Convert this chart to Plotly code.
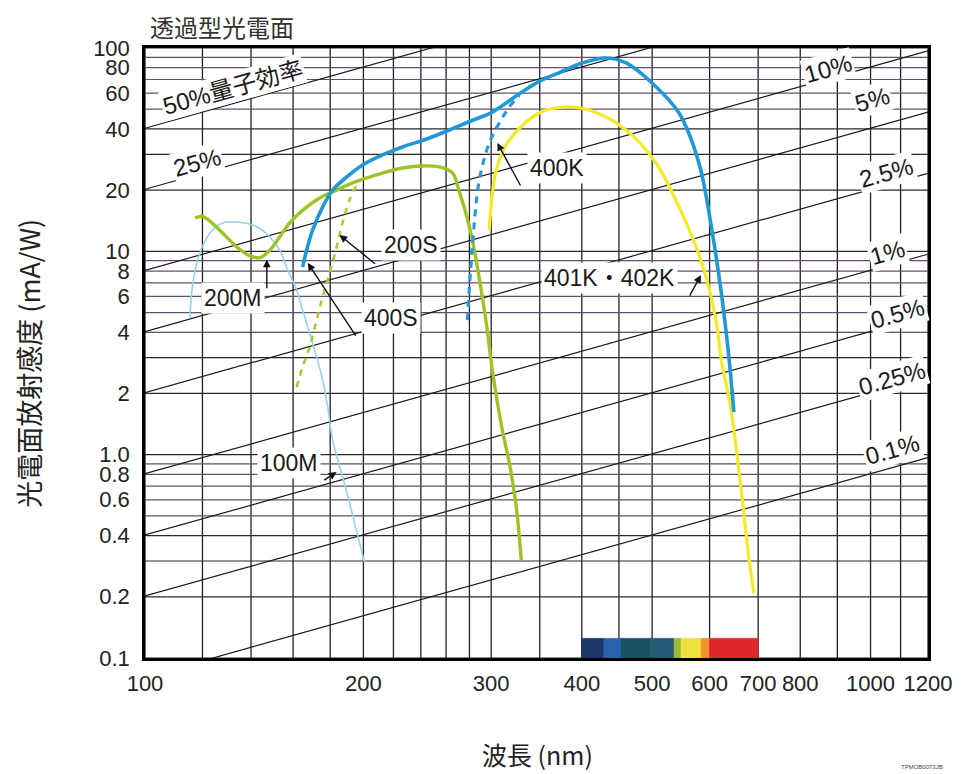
import numpy as np
import plotly.graph_objects as go

# ---------------- data ----------------
x_ticks = [100, 200, 300, 400, 500, 600, 700, 800, 1000, 1200]
y_ticks = [0.1, 0.2, 0.4, 0.6, 0.8, 1, 2, 4, 6, 8, 10, 20, 40, 60, 80, 100]
y_ticktext = ["0.1", "0.2", "0.4", "0.6", "0.8", "1.0", "2", "4", "6", "8", "10", "20", "40", "60", "80", "100"]

grid_nm = [100, 120, 140, 160, 180, 200, 220, 240, 260, 280, 300, 350, 400, 450, 500,
           600, 700, 800, 900, 1000, 1100, 1200]
grid_dark = [0.1, 0.2, 0.3, 0.4, 1, 2, 3, 4, 10, 20, 30, 40, 100]
grid_light = [0.5, 0.6, 0.7, 0.8, 0.9, 5, 6, 7, 8, 9, 50, 60, 70, 80, 90]

# quantum-efficiency reference lines (value at 100 nm and at 1200 nm, mA/W)
qe_labels = ["50%量子効率", "25%", "10%", "5%", "2.5%", "1%", "0.5%", "0.25%", "0.1%"]
qe_at_100 = [40.3, 20.2, 8.06, 4.03, 2.02, 0.806, 0.403, 0.202, 0.0806]
qe_at_1200 = [484, 242, 96.8, 48.4, 24.2, 9.68, 4.84, 2.42, 0.968]
qe_label_nm = [132.1, 117.9, 875, 1006, 1052, 1055, 1089, 1069, 1072]
qe_label_val = [63.6, 27.5, 79.7, 55.5, 24.3, 9.92, 4.97, 2.38, 1.06]

# spectral response curves
m100_nm = [115.3, 116.4, 119.0, 122.9, 128.0, 135.1, 142.6, 148.5, 153.4, 157.3, 161.8, 164.9,
           168.6, 172.4, 175.7, 178.6, 181.4, 186.6, 191.4, 197.6, 200.8]
m100_val = [4.70, 6.98, 9.8, 12.3, 13.8, 13.9, 13.2, 11.8, 10.1, 8.09, 6.45, 5.14,
            3.96, 3.02, 2.33, 1.71, 1.18, 0.81, 0.578, 0.367, 0.293]

m200_nm = [117.2, 120.2, 126.8, 133.8, 139.5, 143.9, 148.5, 153.4, 158.3, 164.9, 174.1, 183.7,
           193.2, 204.0, 215.3, 226.4, 241.2, 254.6, 265.3, 271.3, 276.0, 282.6, 291.7, 296.3,
           301.1, 310.8, 317.8, 324.9, 330.1]
m200_val = [14.6, 14.8, 12.7, 10.5, 9.5, 9.3, 10.1, 11.8, 13.8, 15.9, 18.3, 20.0,
            21.7, 23.2, 24.6, 25.7, 26.3, 26.0, 24.3, 19.5, 16.0, 11.4, 5.96, 4.1,
            2.6, 1.32, 0.91, 0.552, 0.303]

s200_nm = [161.8, 164.9, 168.6, 172.4, 175.7, 179.7, 183.7, 187.2, 191.4, 195.7]
s200_val = [2.15, 2.70, 3.38, 4.59, 5.96, 7.82, 10.5, 13.8, 17.9, 21.2]

s400_nm = [164.9, 167.0, 170.2, 175.7, 181.4, 189.6, 199.5, 212.5, 226.4, 245.0, 262.6, 280.0,
           301.1, 328.0, 349.4, 372, 400.5, 432.0, 460.3, 499.7, 544.5, 580.0, 604.4, 623.8,
           637.9, 648.1]
s400_val = [8.37, 10.1, 12.7, 16.5, 20.0, 23.2, 26.6, 29.8, 32.6, 35.8, 39.5, 43.5,
            48.4, 59.5, 68.5, 75.5, 84.4, 89.3, 84.4, 67.3, 47.9, 27.2, 12.7, 5.96,
            3.02, 1.62]

k400_nm = [278.2, 282.6, 288.9, 298.2, 307.8, 317.8, 328.0]
k400_val = [4.59, 10.5, 22.4, 34.1, 42.8, 51.3, 58.7]

k401_nm = [298.2, 304.9, 317.8, 349.4, 380.6, 409.5, 460.3, 506.1, 549.5, 585.5, 612.1, 623.8,
           637.9, 648.1, 658.4, 668.9, 679.6, 690.5]
k401_val = [12.7, 25.1, 35.3, 47.9, 51.3, 49.5, 39.5, 27.2, 15.4, 8.76, 4.6, 2.82,
            1.92, 1.32, 0.84, 0.516, 0.313, 0.209]

# visible spectrum strip
spec_edges = [400, 429, 453, 498, 536, 548, 584, 600, 700]
spec_colors = ["#1d3668", "#2a62b0", "#1b5262", "#215a72", "#9ab83a", "#f0e03a", "#f0902e", "#e0282a"]
spec_bottom, spec_top = 0.1, 0.125

# curve labels: text, label position (nm, value), arrow tip (nm, value), arrow tail offset px
curve_labels = ["200M", "400S", "200S", "400K", "401K・402K", "100M"]
label_nm = [132.1, 218.0, 232.9, 369.9, 436.1, 157.8]
label_val = [5.89, 4.70, 10.74, 25.7, 7.39, 0.909]
tip_nm = [147.2, 167.6, 185.4, 305.9, 583.7, 183.7]
tip_val = [9.1, 8.76, 12.03, 34.1, 7.64, 0.821]
tail_dx = [0, 49, 37, 24, -12, -14]
tail_dy = [30, 74, 30, 44, 22, 9]

# ---------------- figure ----------------
LATIN = "Liberation Sans, Arial, Noto Sans CJK JP, sans-serif"
CJK = "Noto Sans CJK JP, Liberation Sans, sans-serif"

fig = go.Figure()

# grid
vx, vy = [], []
for g in grid_nm:
    vx += [g, g, None]
    vy += [0.1, 100, None]
fig.add_trace(go.Scatter(x=vx, y=vy, mode="lines", line=dict(color="#222222", width=1.3),
                         hoverinfo="skip", showlegend=False))
hx, hy = [], []
for g in grid_light:
    hx += [100, 1200, None]
    hy += [g, g, None]
fig.add_trace(go.Scatter(x=hx, y=hy, mode="lines", line=dict(color="#65506c", width=1.2),
                         hoverinfo="skip", showlegend=False))
hx, hy = [], []
for g in grid_dark:
    hx += [100, 1200, None]
    hy += [g, g, None]
fig.add_trace(go.Scatter(x=hx, y=hy, mode="lines", line=dict(color="#2a2a2a", width=1.2),
                         hoverinfo="skip", showlegend=False))

# quantum efficiency lines
for a, b in zip(qe_at_100, qe_at_1200):
    fig.add_trace(go.Scatter(x=[100, 1200], y=[a, b], mode="lines",
                             line=dict(color="#1a1a1a", width=1.2),
                             hoverinfo="skip", showlegend=False))

# spectrum strip
for i, c in enumerate(spec_colors):
    x0, x1 = spec_edges[i], spec_edges[i + 1]
    fig.add_trace(go.Scatter(x=[x0, x1, x1, x0, x0],
                             y=[spec_bottom, spec_bottom, spec_top, spec_top, spec_bottom],
                             mode="lines", fill="toself", fillcolor=c,
                             line=dict(color=c, width=0.5),
                             hoverinfo="skip", showlegend=False))

# curves
fig.add_trace(go.Scatter(x=m100_nm, y=m100_val, mode="lines", name="100M",
                         line=dict(color="#94d4ec", width=1.6, shape="spline")))
fig.add_trace(go.Scatter(x=k401_nm, y=k401_val, mode="lines", name="401K・402K",
                         line=dict(color="#f3ea28", width=3.2, shape="spline")))
fig.add_trace(go.Scatter(x=m200_nm, y=m200_val, mode="lines", name="200M",
                         line=dict(color="#9cc424", width=3.4, shape="spline")))
fig.add_trace(go.Scatter(x=s200_nm, y=s200_val, mode="lines", name="200S",
                         line=dict(color="#a8cc30", width=2.6, shape="spline", dash="6px,6px")))
fig.add_trace(go.Scatter(x=k400_nm, y=k400_val, mode="lines", name="400K",
                         line=dict(color="#2a9ad6", width=3.2, shape="spline", dash="7px,6px")))
fig.add_trace(go.Scatter(x=s400_nm, y=s400_val, mode="lines", name="400S",
                         line=dict(color="#1f98d6", width=3.6, shape="spline")))

annotations = []
# QE labels along their lines
slope_deg = -np.degrees(np.arctan(203.3 / 730.0))
for lab, lx, ly in zip(qe_labels, qe_label_nm, qe_label_val):
    annotations.append(dict(x=np.log10(lx), y=np.log10(ly), xref="x", yref="y", text=lab,
                            showarrow=False, textangle=slope_deg,
                            font=dict(family=LATIN, size=24, color="#1a1a1a"),
                            bgcolor="white", borderpad=1))

# curve labels and arrows
for t, lx, ly, tx, ty, dx, dy in zip(curve_labels, label_nm, label_val, tip_nm, tip_val, tail_dx, tail_dy):
    annotations.append(dict(x=np.log10(tx), y=np.log10(ty), xref="x", yref="y", text="",
                            showarrow=True, arrowhead=2, arrowsize=1.1, arrowwidth=1.4,
                            arrowcolor="#111111", ax=dx, ay=dy, standoff=0))
    annotations.append(dict(x=np.log10(lx), y=np.log10(ly), xref="x", yref="y", text=t,
                            showarrow=False, font=dict(family=LATIN, size=23, color="#1a1a1a"),
                            bgcolor="white", borderpad=2))

# titles
annotations.append(dict(x=0.004, y=1.036, xref="paper", yref="paper", text="透過型光電面",
                        showarrow=False, xanchor="left", yanchor="middle",
                        font=dict(family=CJK, size=24, color="#333333")))
annotations.append(dict(x=-0.1497, y=0.4836, xref="paper", yref="paper",
                        text="光電面放射感度 (mA/W)", textangle=-90, showarrow=False,
                        xanchor="center", yanchor="middle",
                        font=dict(family=CJK, size=27, color="#222222")))
annotations.append(dict(x=0.501, y=-0.158, xref="paper", yref="paper", text="波長 (nm)",
                        showarrow=False, xanchor="center", yanchor="middle",
                        font=dict(family=CJK, size=25, color="#222222")))
annotations.append(dict(x=0.992, y=-0.178, xref="paper", yref="paper", text="TPMOB0073JB",
                        showarrow=False, xanchor="center", yanchor="middle",
                        font=dict(family=LATIN, size=6, color="#444444")))

fig.update_layout(
    width=964, height=774,
    margin=dict(l=145, r=31, t=48, b=116),
    paper_bgcolor="white", plot_bgcolor="white",
    showlegend=False,
    annotations=annotations,
    font=dict(family=LATIN, color="#222222"),
)
fig.update_xaxes(type="log", range=[2, np.log10(1200)], showgrid=False, zeroline=False,
                 showline=True, linewidth=2.5, linecolor="black", mirror=True,
                 tickmode="array", tickvals=x_ticks, ticktext=[str(v) for v in x_ticks],
                 tickfont=dict(family=LATIN, size=22, color="#222222"), ticks="",
                 ticklabelstandoff=4)
fig.update_yaxes(type="log", range=[-1, 2], showgrid=False, zeroline=False,
                 showline=True, linewidth=2.5, linecolor="black", mirror=True,
                 tickmode="array", tickvals=y_ticks, ticktext=y_ticktext,
                 tickfont=dict(family=LATIN, size=22, color="#222222"), ticks="",
                 ticklabelstandoff=8)

fig.write_html("out.html")
